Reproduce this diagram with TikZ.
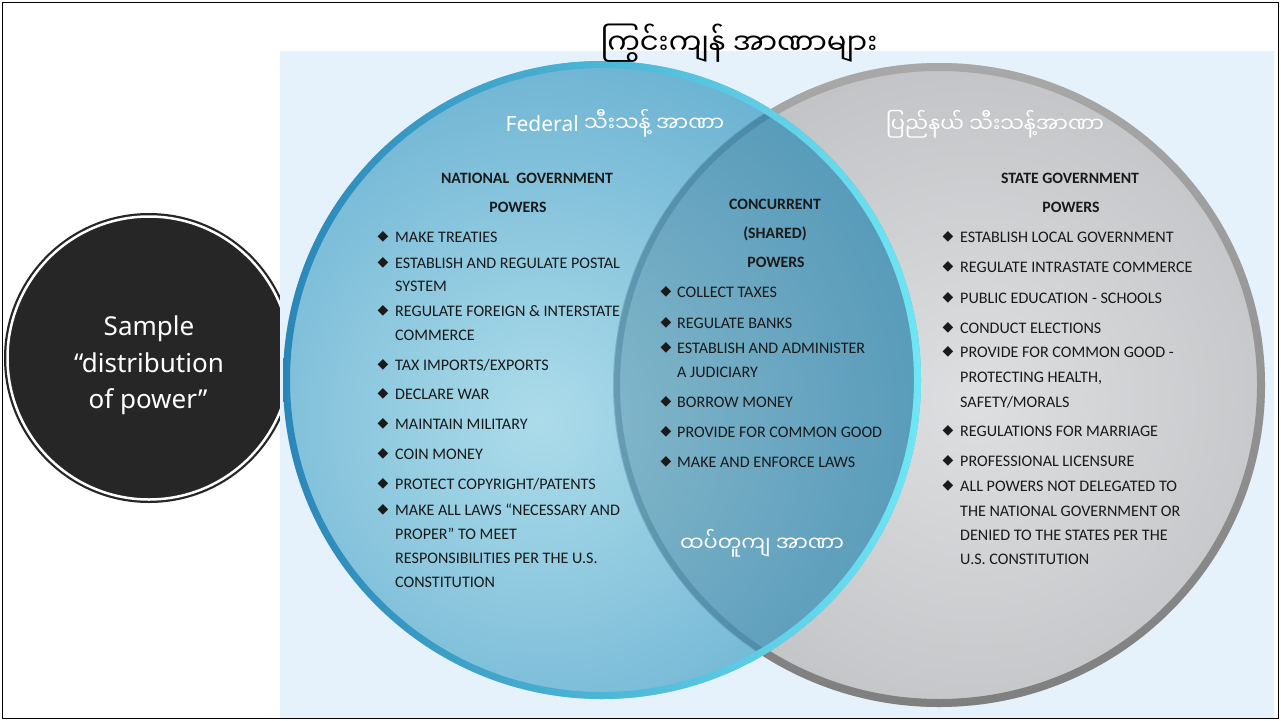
\documentclass[tikz,border=0pt]{standalone}
\usepackage{fontspec}
\newfontfamily\mmfont[Script=Myanmar]{Noto Sans Myanmar UI}
\newfontfamily\carl{Carlito}
\newfontfamily\nsans{Noto Sans}
\newfontfamily\djv{DejaVu Sans}
\definecolor{bgblue}{HTML}{E6F2FB}
\definecolor{bluein}{HTML}{ACDCEA}
\definecolor{blueout}{HTML}{3A92C0}
\definecolor{overlapc}{HTML}{1E5470}
\definecolor{bluerimA}{HTML}{2A86B8}
\definecolor{bluerimB}{HTML}{6FE6F4}
\definecolor{grayin}{HTML}{DEDFE1}
\definecolor{grayout}{HTML}{A6A9AC}
\definecolor{grayrimA}{HTML}{A8A8A8}
\definecolor{grayrimB}{HTML}{7F7F7F}
\definecolor{txt}{HTML}{1A1A1A}
\definecolor{samplefill}{HTML}{262626}
\begin{document}
\begin{tikzpicture}[x=1pt,y=-1pt,
  lst/.style={font=\carl\fontsize{16.1}{18}\selectfont, text=txt, anchor=base west, inner sep=0pt},
  hdr/.style={font=\carl\bfseries\fontsize{15.8}{18}\selectfont, text=txt, anchor=base, inner sep=0pt},
  bul/.style={font=\djv\fontsize{14}{15}\selectfont, text=txt, inner sep=0pt},
  mmlab/.style={font=\mmfont\fontsize{21}{24}\selectfont, text=white, anchor=base, inner sep=0pt},
  samp/.style={font=\nsans\fontsize{26}{30}\selectfont, text=white, anchor=base, inner sep=0pt},
  samplecircle/.style={circle, fill=samplefill, minimum size=290pt, inner sep=0pt}
]
\useasboundingbox (0,0) rectangle (1281,720);
\fill[white] (0,0) rectangle (1281,720);
% left circle
\node[samplecircle] (samplecirc) at (149,358) {};
\draw[white, line width=2.5pt] (samplecirc.center) circle (141.5pt);
% background panel
\fill[bgblue] (280,51) rectangle (1274,718);
\draw[black, line width=1.5pt] (2.5,2.5) rectangle (1278.5,718.5);

% gray circle
\begin{scope}
  \clip (939,385) ellipse [x radius=326pt, y radius=322pt];
  \shade[inner color=grayin, outer color=grayout] (975,400) circle (680pt);
\end{scope}
\shade[top color=grayrimA, bottom color=grayrimB, even odd rule]
  (939,385) ellipse [x radius=326pt, y radius=322pt]
  (939,385) ellipse [x radius=318pt, y radius=314pt];

% blue circle
\begin{scope}
  \clip (602,380) circle (319pt);
  \shade[inner color=bluein, outer color=blueout] (540,420) circle (680pt);
\end{scope}
% overlap
\begin{scope}
  \clip (602,380) circle (312pt);
  \clip (939,385) ellipse [x radius=326pt, y radius=322pt];
  \fill[overlapc, opacity=0.24] (600,0) rectangle (1000,720);
  \draw[overlapc, opacity=0.25, line width=6pt] (939,385) ellipse [x radius=322pt, y radius=318pt];
\end{scope}
\shade[left color=bluerimA, right color=bluerimB, even odd rule]
  (602,380) circle (319pt) (602,380) circle (312pt);

% title and labels
\node[font=\mmfont\fontsize{29}{33}\selectfont, text=black, anchor=base, inner sep=0pt] (title) at (739,54) {ကြွင်းကျန် အာဏာများ};
\node[mmlab] (fedlab) at (615,131) {{\nsans Federal} သီးသန့် အာဏာ};
\node[mmlab] (statelab) at (995,132) {ပြည်နယ် သီးသန့်အာဏာ};
\node[mmlab] (sharedlab) at (762,551) {ထပ်တူကျ အာဏာ};

% sample text
\node[samp] (samp1) at (149,335) {Sample};
\node[samp] (samp2) at (149,372) {“distribution};
\node[samp] (samp3) at (148,408) {of power”};

% national
\node[hdr] (nath1) at (527,183) {NATIONAL\ \ GOVERNMENT};
\node[hdr] (nath2) at (518,212) {POWERS};
\foreach \yy/\bb/\ttx [count=\i] in {
  242/1/MAKE TREATIES,
  268/1/ESTABLISH AND REGULATE POSTAL,
  291/0/SYSTEM,
  316/1/REGULATE FOREIGN \& INTERSTATE,
  340/0/COMMERCE,
  370/1/{TAX IMPORTS/EXPORTS},
  399/1/DECLARE WAR,
  429/1/MAINTAIN MILITARY,
  459/1/COIN MONEY,
  489/1/{PROTECT COPYRIGHT/PATENTS},
  515/1/MAKE ALL LAWS “NECESSARY AND,
  539/0/PROPER” TO MEET,
  563/0/RESPONSIBILITIES PER THE U.S.,
  587/0/CONSTITUTION}{
  \node[lst] (nat\i) at (395,\yy) {\ttx};
  \ifnum\bb=1 \node[bul] (natb\i) at (383,\yy-5) {◆};\fi
}

% concurrent
\node[hdr] (conh1) at (775,209) {CONCURRENT};
\node[hdr] (conh2) at (775,238) {(SHARED)};
\node[hdr] (conh3) at (776,267) {POWERS};
\foreach \yy/\bb/\ttx [count=\i] in {
  297/1/COLLECT TAXES,
  328/1/REGULATE BANKS,
  353/1/ESTABLISH AND ADMINISTER,
  377/0/A JUDICIARY,
  407/1/BORROW MONEY,
  437/1/PROVIDE FOR COMMON GOOD,
  467/1/MAKE AND ENFORCE LAWS}{
  \node[lst] (con\i) at (677,\yy) {\ttx};
  \ifnum\bb=1 \node[bul] (conb\i) at (666,\yy-5) {◆};\fi
}

% state
\node[hdr] (sth1) at (1070,183) {STATE GOVERNMENT};
\node[hdr] (sth2) at (1071,212) {POWERS};
\foreach \yy/\bb/\ttx [count=\i] in {
  242/1/ESTABLISH LOCAL GOVERNMENT,
  272/1/REGULATE INTRASTATE COMMERCE,
  303/1/PUBLIC EDUCATION - SCHOOLS,
  333/1/CONDUCT ELECTIONS,
  357/1/PROVIDE FOR COMMON GOOD -,
  382/0/{PROTECTING HEALTH,},
  407/0/{SAFETY/MORALS},
  436/1/REGULATIONS FOR MARRIAGE,
  466/1/PROFESSIONAL LICENSURE,
  491/1/ALL POWERS NOT DELEGATED TO,
  516/0/THE NATIONAL GOVERNMENT OR,
  540/0/DENIED TO THE STATES PER THE,
  564/0/U.S. CONSTITUTION}{
  \node[lst] (st\i) at (960,\yy) {\ttx};
  \ifnum\bb=1 \node[bul] (stb\i) at (948,\yy-5) {◆};\fi
}
\end{tikzpicture}
\end{document}
